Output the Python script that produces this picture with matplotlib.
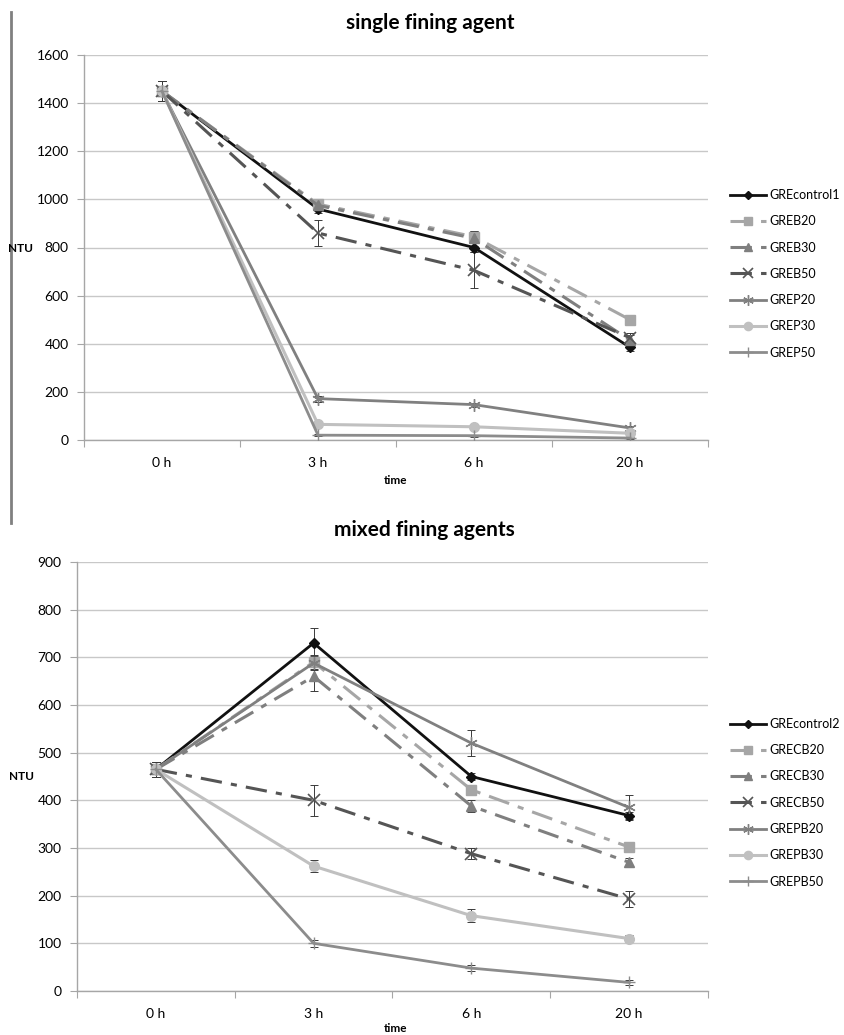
import matplotlib
matplotlib.use("Agg")
import matplotlib.pyplot as plt
from matplotlib.lines import Line2D

plt.rcParams['font.family'] = ['Lato', 'DejaVu Sans']

times = ["0 h", "3 h", "6 h", "20 h"]

# single fining agent
top_names = ["GREcontrol1", "GREB20", "GREB30", "GREB50", "GREP20", "GREP30", "GREP50"]
top_values = [
    [1450, 960, 800, 385],
    [1450, 980, 845, 500],
    [1450, 975, 838, 415],
    [1450, 860, 705, 425],
    [1450, 172, 147, 50],
    [1450, 65, 55, 28],
    [1450, 20, 18, 8],
]
top_errors = [
    [42, 15, 20, 15],
    [40, 15, 25, 20],
    [40, 15, 30, 20],
    [40, 55, 75, 20],
    [40, 12, 8, 8],
    [40, 10, 8, 6],
    [40, 5, 4, 3],
]

# mixed fining agents
bot_names = ["GREcontrol2", "GRECB20", "GRECB30", "GRECB50", "GREPB20", "GREPB30", "GREPB50"]
bot_values = [
    [465, 730, 450, 368],
    [465, 690, 422, 302],
    [465, 660, 388, 270],
    [465, 400, 288, 193],
    [465, 688, 520, 385],
    [465, 262, 158, 110],
    [465, 100, 48, 18],
]
bot_errors = [
    [15, 32, 8, 8],
    [15, 15, 8, 8],
    [15, 30, 12, 8],
    [15, 33, 12, 17],
    [15, 15, 27, 27],
    [15, 13, 14, 8],
    [15, 8, 6, 5],
]

dashdot = (0, (7, 3, 2, 3))
styles = [
    dict(color="#111111", ls="-", marker="D", ms=5, lw=2.0),
    dict(color="#a6a6a6", ls=dashdot, marker="s", ms=7, lw=2.2),
    dict(color="#7f7f7f", ls=dashdot, marker="^", ms=7, lw=2.2),
    dict(color="#555555", ls=dashdot, marker="x", ms=8, lw=2.2, mew=1.2),
    dict(color="#808080", ls="-", marker=(6, 2, 0), ms=9, lw=2.0, mew=1.0),
    dict(color="#c0c0c0", ls="-", marker="o", ms=7, lw=2.2),
    dict(color="#8c8c8c", ls="-", marker="+", ms=9, lw=2.0, mew=1.0),
]

W, H = 845, 1035
fig = plt.figure(figsize=(W / 100, H / 100), dpi=100)

def fx(px):
    return px / W

def fy(py):
    return 1 - py / H

grid_c = "#c8c8c8"
axis_c = "#a6a6a6"

def make_panel(rect, names, values, errors, ymax, ystep, title, title_y,
               ntu_xy, time_y, leg_xy):
    ax = fig.add_axes(rect)
    x = list(range(len(times)))
    for name, vals, errs, st in zip(names, values, errors, styles):
        ax.errorbar(x, vals, yerr=errs, fmt="none", ecolor="#3a3a3a",
                    elinewidth=0.7, capsize=3, capthick=0.7, zorder=2)
        ax.plot(x, vals, label=name, color=st["color"], ls=st["ls"],
                lw=st["lw"], marker=st["marker"], ms=st["ms"],
                mew=st.get("mew", 1.0), zorder=3)
    ax.set_xlim(-0.5, len(times) - 0.5)
    ax.set_ylim(0, ymax)
    ax.set_yticks(range(0, ymax + 1, ystep))
    ax.yaxis.grid(True, color=grid_c, lw=1.0)
    ax.set_axisbelow(True)
    for s in ["top", "right"]:
        ax.spines[s].set_visible(False)
    for s in ["left", "bottom"]:
        ax.spines[s].set_color(axis_c)
        ax.spines[s].set_linewidth(1.0)
    ax.set_xticks([i - 0.5 for i in range(len(times) + 1)])
    ax.set_xticklabels([])
    ax.set_xticks(x, minor=True)
    ax.set_xticklabels(times, minor=True)
    ax.tick_params(axis="x", which="major", length=5, color=axis_c, direction="out")
    ax.tick_params(axis="x", which="minor", length=0, pad=12, labelsize=10)
    ax.tick_params(axis="y", length=5, color=axis_c, labelsize=10, pad=6)
    fig.text(fx(title[1]), fy(title_y), title[0], ha="center", va="center",
             fontsize=15, fontweight="bold")
    fig.text(fx(ntu_xy[0]), fy(ntu_xy[1]), "NTU", ha="left", va="center",
             fontsize=8.5, fontweight="bold")
    fig.text(fx(396), fy(time_y), "time", ha="center", va="center",
             fontsize=8.5, fontweight="bold")
    handles = []
    for name, st in zip(names, styles):
        handles.append(Line2D([], [], color=st["color"], ls=st["ls"], lw=st["lw"],
                              marker=st["marker"], ms=st["ms"] * 0.85,
                              mew=st.get("mew", 1.0), label=name))
    fig.legend(handles=handles, loc="upper left",
               bbox_to_anchor=(fx(leg_xy[0]), fy(leg_xy[1])),
               frameon=False, borderpad=0, borderaxespad=0, fontsize=9,
               handlelength=2.9, handletextpad=0.25, labelspacing=1.14)
    return ax

make_panel([fx(84), fy(440), fx(708 - 84), (440 - 55) / H],
           top_names, top_values, top_errors, 1600, 200,
           ("single fining agent", 430), 23, (8, 248), 480, (730, 189))

make_panel([fx(77), fy(991), fx(708 - 77), (991 - 562) / H],
           bot_names, bot_values, bot_errors, 900, 100,
           ("mixed fining agents", 424), 530, (9, 777), 1029, (730, 718))

fig.add_artist(Line2D([fx(11), fx(11)], [fy(12), fy(523)], color="#808080", lw=2.0))

fig.savefig("out.png", dpi=100)
